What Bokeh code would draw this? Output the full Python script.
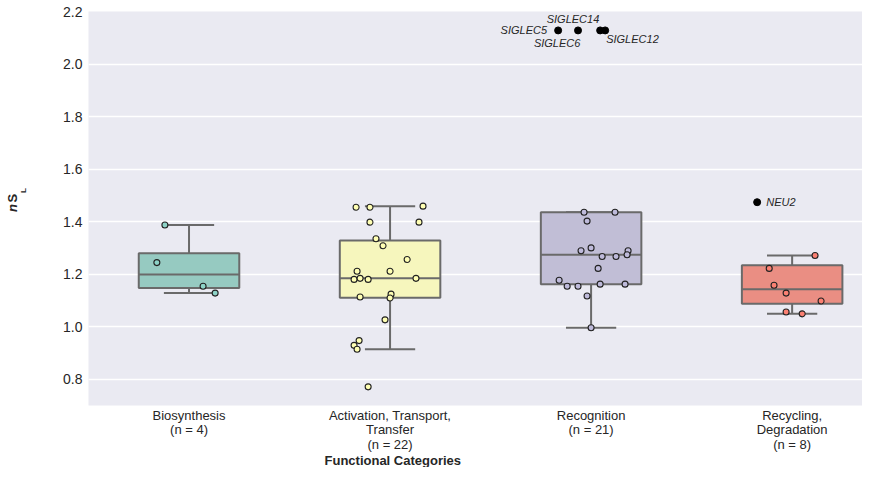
import numpy as np
from bokeh.plotting import figure
from bokeh.layouts import row
from bokeh.models import ColumnDataSource, FixedTicker, Range1d, NumeralTickFormatter, Title
from bokeh.core.properties import value
from bokeh.embed import file_html
from bokeh.resources import INLINE

# ---------------- data ----------------
categories = ["Biosynthesis", "Activation, Transport, Transfer", "Recognition", "Recycling, Degradation"]
tick_labels = ["Biosynthesis\n(n = 4)",
               "Activation, Transport,\nTransfer\n(n = 22)",
               "Recognition\n(n = 21)",
               "Recycling,\nDegradation\n(n = 8)"]
x_title = "Functional Categories"

bio_vals = [1.387, 1.244, 1.154, 1.128]
bio_jitter = [-0.12, -0.16, 0.07, 0.13]

act_vals = [1.455, 1.455, 1.459, 1.398, 1.398, 1.335, 1.308, 1.256, 1.211, 1.211, 1.180,
            1.184, 1.180, 1.184, 1.113, 1.124, 1.109, 1.026, 0.947, 0.929, 0.914, 0.771]
act_jitter = [-0.169, -0.100, 0.164, -0.100, 0.144, -0.070, -0.035, 0.085, -0.164, 0.0, -0.179,
              -0.149, -0.109, 0.129, -0.149, 0.005, 0.0, -0.025, -0.154, -0.179, -0.164, -0.109]

rec_vals = [1.436, 1.436, 1.402, 1.289, 1.300, 1.289, 1.274, 1.267, 1.267, 1.222, 1.177,
            1.154, 1.154, 1.162, 1.162, 1.117, 0.996]
rec_jitter = [-0.035, 0.119, -0.020, -0.050, 0.0, 0.184, 0.179, 0.055, 0.124, 0.035, -0.159,
              -0.119, -0.065, 0.045, 0.169, -0.020, 0.0]

cyc_vals = [1.271, 1.222, 1.158, 1.128, 1.098, 1.056, 1.049]
cyc_jitter = [0.114, -0.114, -0.090, -0.030, 0.144, -0.030, 0.050]

# highlighted (labelled) outliers
out_names = ["SIGLEC5", "SIGLEC14", "SIGLEC6", "SIGLEC12", "NEU2"]
out_cat = [2, 2, 2, 2, 3]
out_vals = [2.128, 2.128, 2.128, 2.128, 1.474]
out_jitter = [-0.164, -0.065, 0.045, 0.070, -0.174]

# label placement next to the outliers
lab_x = [1.781, 1.910, 1.831, 2.075, 2.871]
lab_y = [2.128, 2.173, 2.079, 2.096, 1.474]
lab_align = ["right", "center", "center", "left", "left"]

# y-axis title pieces: italic n, S, subscript L (placed in y-data units of the shared range)
ylab_text = ["n", "S", "L"]
ylab_style = ["bold italic", "bold", "bold"]
ylab_size = ["13px", "13px", "8px"]
ylab_x = [12, 12, 23]
ylab_y = [1.452, 1.489, 1.518]

strip_vals = [bio_vals, act_vals, rec_vals, cyc_vals]
strip_jitter = [bio_jitter, act_jitter, rec_jitter, cyc_jitter]

# styles
box_colors = ["#96CAC1", "#F6F6BD", "#C1BED6", "#EA8E83"]
pt_colors = ["#8DD3C7", "#FFFFB3", "#BEBADA", "#FB8072"]
line_col = "#6a6a6a"
txt_col = "#262626"
FONT = "Liberation Sans"

W, H = 862, 467
LW = 30  # width of the strip holding the y title

yr = Range1d(0.7, 2.2)

# ---------------- y title strip ----------------
pl = figure(width=LW, height=H, output_backend="svg", toolbar_location=None,
            x_range=Range1d(0, LW), y_range=yr, min_border=0)
pl.axis.visible = False
pl.grid.visible = False
pl.outline_line_color = None
pl.background_fill_color = "white"
for t, s, fs, x, y in zip(ylab_text, ylab_style, ylab_size, ylab_x, ylab_y):
    pl.text(x=[x], y=[y], text=[t], angle=np.pi / 2, text_align="center",
            text_baseline="middle", text_font=value(FONT), text_font_style=s,
            text_font_size=fs, text_color=txt_col)

# ---------------- main figure ----------------
p = figure(width=W - LW, height=H, output_backend="svg", toolbar_location=None,
           x_range=Range1d(-0.5, 3.35), y_range=yr,
           min_border_left=88 - LW, min_border_right=0, min_border_top=11, min_border_bottom=0)
p.background_fill_color = "#EAEAF2"
p.border_fill_color = "white"
p.outline_line_color = None
p.xgrid.visible = False
p.ygrid.grid_line_color = "white"
p.ygrid.grid_line_width = 1.3

p.yaxis.ticker = FixedTicker(ticks=[0.8, 1.0, 1.2, 1.4, 1.6, 1.8, 2.0, 2.2])
p.yaxis.formatter = NumeralTickFormatter(format="0.0")
p.xaxis.ticker = FixedTicker(ticks=[0, 1, 2, 3])
p.xaxis.major_label_overrides = {i: t for i, t in enumerate(tick_labels)}

for ax in (p.xaxis, p.yaxis):
    ax.axis_line_color = None
    ax.major_tick_line_color = None
    ax.minor_tick_line_color = None
    ax.major_tick_out = 0
    ax.major_tick_in = 0
    ax.minor_tick_out = 0
    ax.minor_tick_in = 0
    ax.major_label_text_font = FONT
    ax.major_label_text_color = txt_col
p.yaxis.major_label_text_font_size = "14px"
p.xaxis.major_label_text_font_size = "13px"
p.yaxis.major_label_standoff = 6
p.xaxis.major_label_standoff = 2
p.xaxis.major_label_text_line_height = 0.98

# x-axis title, placed below the tick labels (left-aligned with an offset like the reference)
p.add_layout(Title(text=x_title, align="left", offset=236, standoff=-4, vertical_align="top",
                   text_font=FONT, text_font_size="13px", text_font_style="bold",
                   text_color=txt_col), "below")

# ---------------- box statistics ----------------
q1s, meds, q3s, lows, highs = [], [], [], [], []
for i in range(4):
    allv = list(strip_vals[i]) + [v for c, v in zip(out_cat, out_vals) if c == i]
    a = np.array(allv)
    q1, med, q3 = np.percentile(a, [25, 50, 75])
    iqr = q3 - q1
    lo = a[a >= q1 - 1.5 * iqr].min()
    hi = a[a <= q3 + 1.5 * iqr].max()
    q1s.append(q1); meds.append(med); q3s.append(q3); lows.append(lo); highs.append(hi)

xs = np.arange(4)
bw = 0.5
cw = 0.25
box_src = ColumnDataSource(dict(x=xs, q1=q1s, q3=q3s, med=meds, lo=lows, hi=highs,
                                color=box_colors,
                                xl=xs - bw / 2, xr=xs + bw / 2,
                                cl=xs - cw / 2, cr=xs + cw / 2))

# whiskers and caps
p.segment(x0="x", y0="q3", x1="x", y1="hi", source=box_src, line_color=line_col, line_width=2)
p.segment(x0="x", y0="q1", x1="x", y1="lo", source=box_src, line_color=line_col, line_width=2)
p.segment(x0="cl", y0="hi", x1="cr", y1="hi", source=box_src, line_color=line_col, line_width=2)
p.segment(x0="cl", y0="lo", x1="cr", y1="lo", source=box_src, line_color=line_col, line_width=2)
# boxes and medians
p.vbar(x="x", width=bw, top="q3", bottom="q1", source=box_src, fill_color="color",
       line_color=line_col, line_width=2)
p.segment(x0="xl", y0="med", x1="xr", y1="med", source=box_src, line_color=line_col, line_width=2)

# strip points
for i in range(4):
    src = ColumnDataSource(dict(x=i + np.array(strip_jitter[i]), y=strip_vals[i]))
    p.scatter(x="x", y="y", source=src, size=6, fill_color=pt_colors[i],
              line_color="#222222", line_width=1.1)

# labelled outliers
osrc = ColumnDataSource(dict(x=np.array(out_cat) + np.array(out_jitter), y=out_vals))
p.scatter(x="x", y="y", source=osrc, size=7, fill_color="black", line_color="black")
lsrc = ColumnDataSource(dict(x=lab_x, y=lab_y, t=out_names, a=lab_align))
p.text(x="x", y="y", text="t", source=lsrc, text_align="a", text_baseline="middle",
       text_font=value(FONT), text_font_style="italic", text_font_size="11px",
       text_color=txt_col)

layout = row(pl, p)
open("out.html", "w").write(file_html(layout, INLINE))
